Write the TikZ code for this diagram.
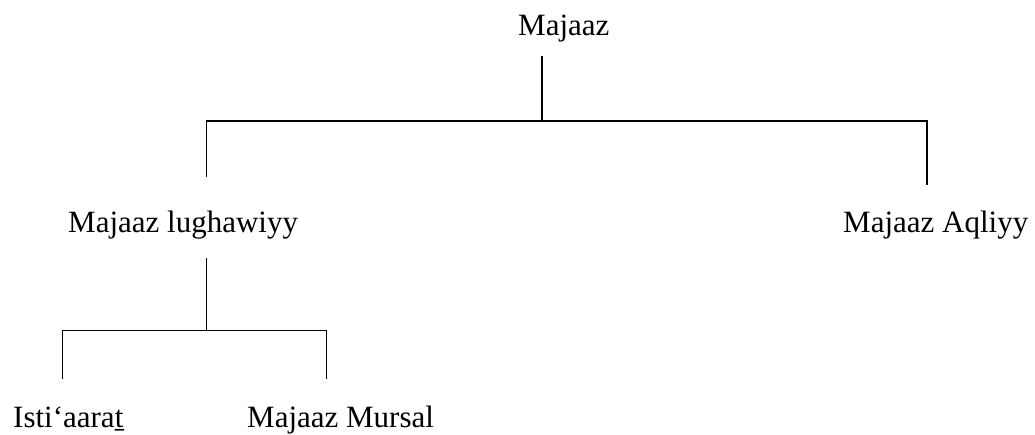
\documentclass[tikz,border=0pt]{standalone}
\usepackage{fontspec}
\setmainfont{Liberation Serif}
\begin{document}
\begin{tikzpicture}[x=1pt,y=-1pt,
  term/.style={anchor=base west, inner sep=0pt, font=\fontsize{31}{36}\selectfont},
  branch/.style={line width=1.4pt, line join=miter}]
\useasboundingbox (0,0) rectangle (1035,434);

% terms of the tree
\node[term] (maj) at (518,35)  {Majaaz};
\node[term] (lug) at (68,232)  {Majaaz lughawiyy};
\node[term] (aql) at (843,232) {Majaaz Aqliyy};
\node[term] (ist) at (13,427)  {Isti‘aaraṯ};
\node[term] (mur) at (247,427) {Majaaz Mursal};

% branch points
\coordinate (rootdrop) at (542,56);
\coordinate (rootbar)  at (542,121);
\coordinate (lbar)     at (206.7,121);
\coordinate (rbar)     at (927,121);
\coordinate (ltop)     at (206.7,177);
\coordinate (rtop)     at (927,185);
\coordinate (lugdrop)  at (206.7,258);
\coordinate (lugbar)   at (206.7,330.7);
\coordinate (ibar)     at (62.7,330.7);
\coordinate (mbar)     at (326.7,330.7);
\coordinate (itop)     at (62.7,379);
\coordinate (mtop)     at (326.7,379);

% first level
\draw[branch] (rootdrop) -- (rootbar);
\draw[branch] (ltop) -- (lbar) -- (rbar) -- (rtop);

% second level
\draw[branch] (lugdrop) -- (lugbar);
\draw[branch] (itop) -- (ibar) -- (mbar) -- (mtop);
\end{tikzpicture}
\end{document}
